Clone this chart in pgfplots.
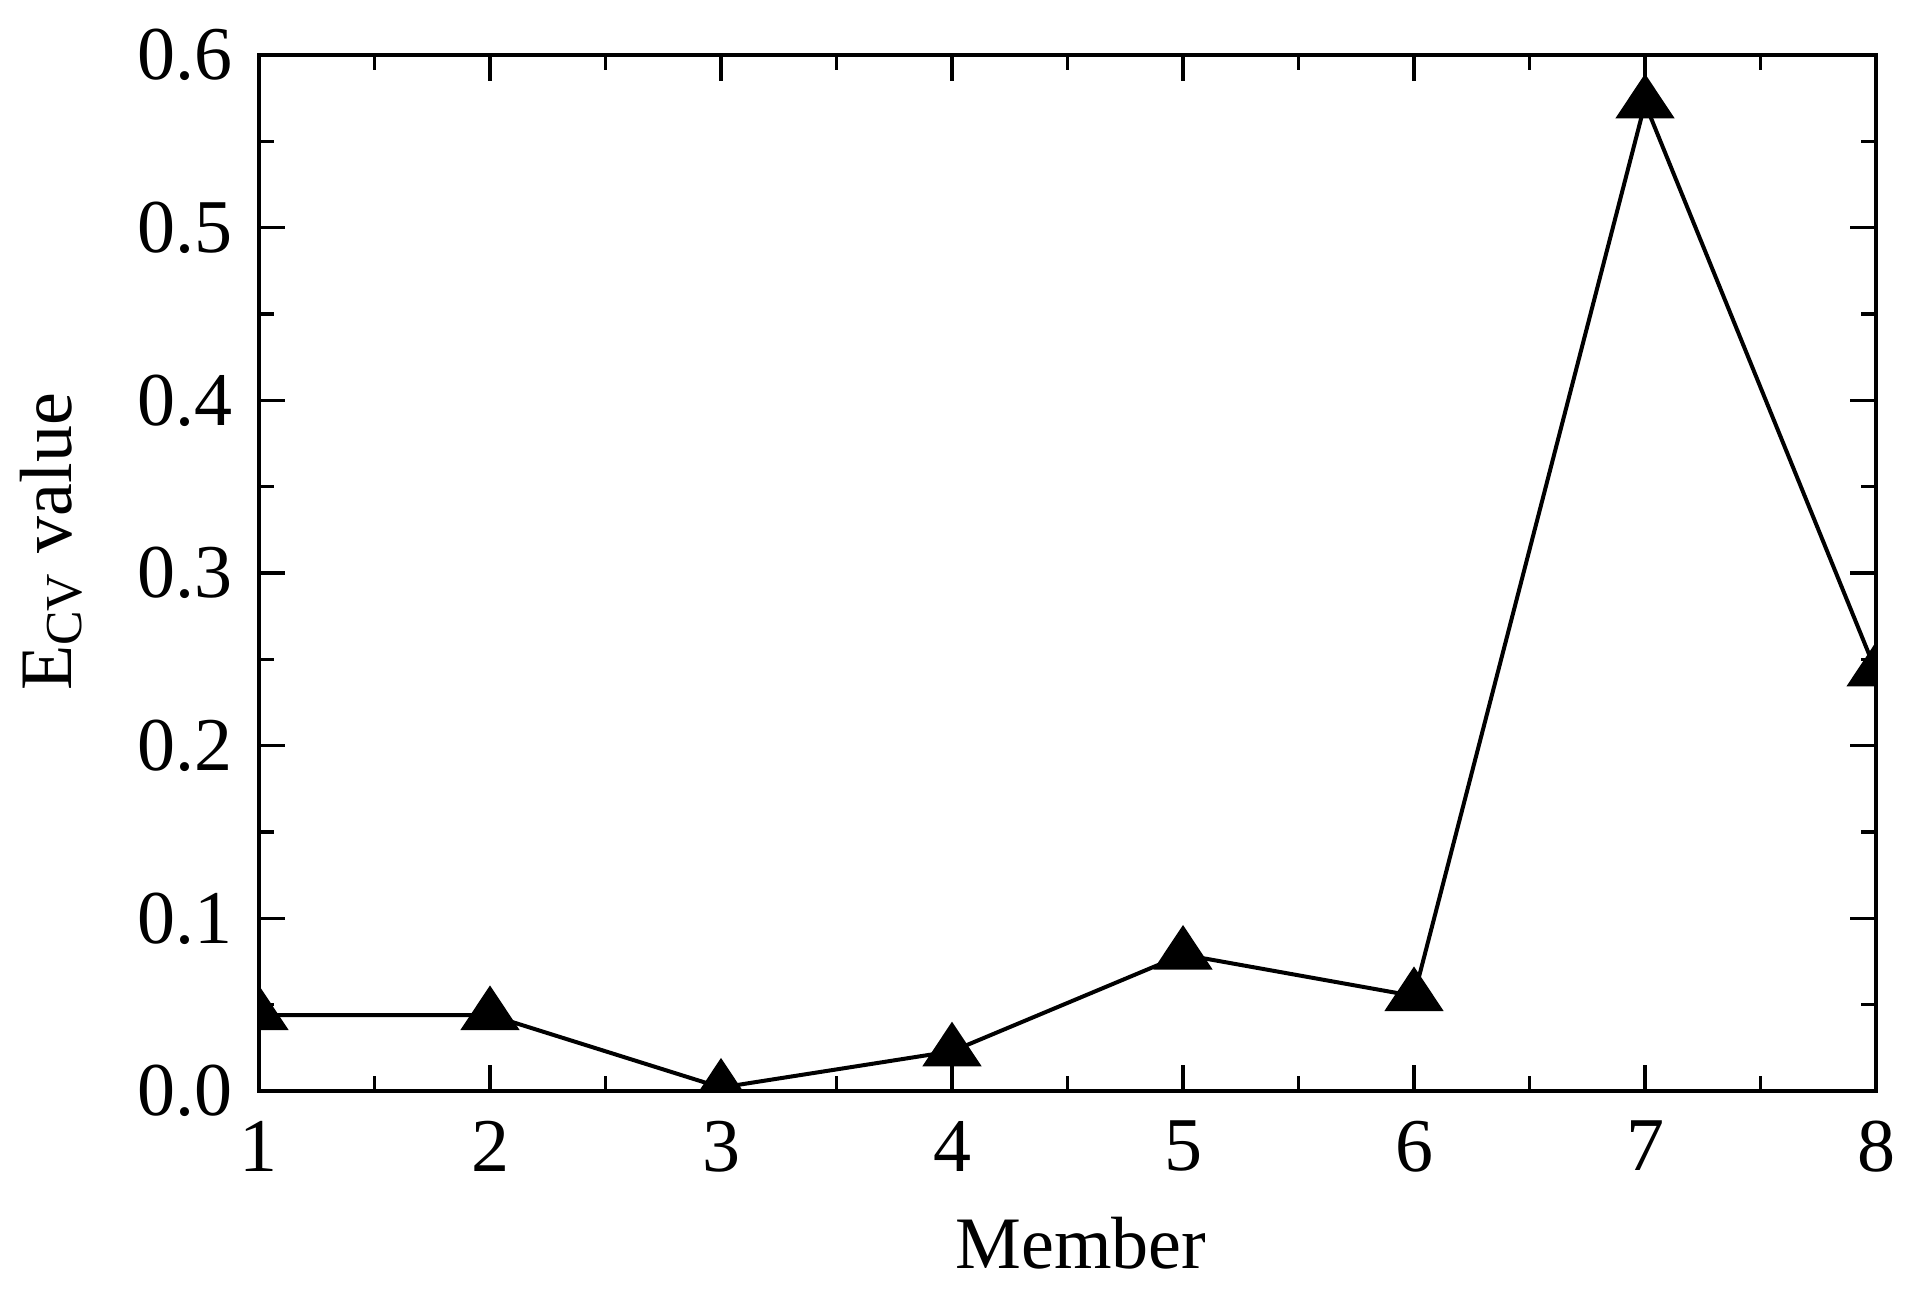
\documentclass[border=0pt]{standalone}
\usepackage{fontspec}
\setmainfont{Liberation Serif}
\usepackage{pgfplots}
\pgfplotsset{compat=1.18}
\begin{document}
\begin{tikzpicture}
\path[use as bounding box] (-64.75pt,-50.25pt) rectangle (415.75pt,272.75pt);
\begin{axis}[
    at={(0pt,0pt)}, anchor=south west,
    scale only axis,
    width=404.25pt, height=259pt,
    xmin=1, xmax=8, ymin=0, ymax=0.6,
    xtick={1,2,...,8},
    ytick={0,0.1,...,0.6},
    minor x tick num=1,
    minor y tick num=1,
    tick align=inside,
    major tick length=6.4pt,
    minor tick length=3.7pt,
    every tick/.style={black, line width=0.9pt},
    axis line style={line width=0.9pt},
    /pgf/number format/assume math mode=true,
    yticklabel style={/pgf/number format/fixed, /pgf/number format/fixed zerofill, /pgf/number format/precision=1, xshift=-3pt},
    xticklabel style={yshift=-4pt},
    tick label style={font=\fontsize{19}{22}\selectfont},
    label style={font=\fontsize{18.5}{22}\selectfont},
    xlabel={Member},
    ylabel={E\textsubscript{CV} value},
    xlabel style={at={(axis description cs:0.5,0)}, anchor=center, yshift=-38pt, xshift=3.4pt},
    ylabel style={at={(axis description cs:0,0.53)}, anchor=center, yshift=52pt},
    clip marker paths=true,
    axis on top,
]
\addplot[black, line width=1pt, mark=triangle*, mark size=6.5pt, mark options={xscale=1.15}]
coordinates {(1,0.044) (2,0.044) (3,0.002) (4,0.023) (5,0.079) (6,0.055) (7,0.572) (8,0.243)};
\end{axis}
\end{tikzpicture}
\end{document}
